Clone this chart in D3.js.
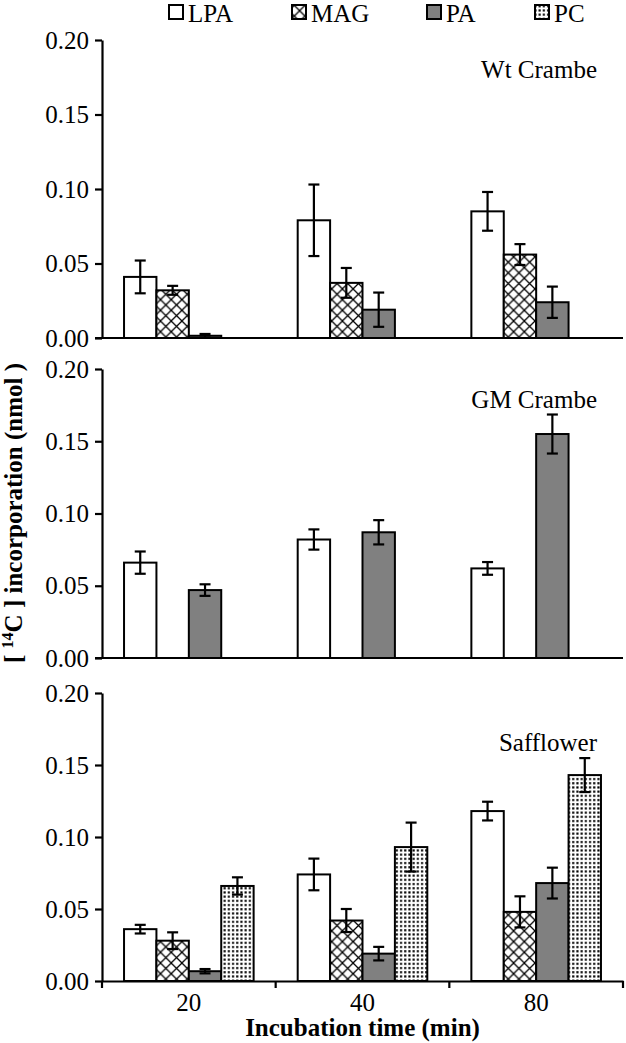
<!DOCTYPE html>
<html><head><meta charset="utf-8">
<script src="https://cdn.jsdelivr.net/npm/d3@7"></script>
<style>html,body{margin:0;padding:0;background:#fff;}</style>
</head><body>
<svg id="chart" width="626" height="1043"></svg>
<script>
const categories = ["20", "40", "80"];
const series = ["LPA", "MAG", "PA", "PC"];
const panelTitles = ["Wt Crambe", "GM Crambe", "Safflower"];
const yTicks = [0, 0.05, 0.10, 0.15, 0.20];

// Wt Crambe
const wtLPA = [0.041, 0.079, 0.085];
const wtMAG = [0.032, 0.037, 0.056];
const wtPA  = [0.0015, 0.019, 0.024];
const wtPC  = [null, null, null];
const wtLPAerr = [0.011, 0.024, 0.013];
const wtMAGerr = [0.003, 0.010, 0.007];
const wtPAerr  = [0.0012, 0.0115, 0.0105];
const wtPCerr  = [null, null, null];

// GM Crambe
const gmLPA = [0.066, 0.082, 0.062];
const gmMAG = [null, null, null];
const gmPA  = [0.047, 0.087, 0.155];
const gmPC  = [null, null, null];
const gmLPAerr = [0.0077, 0.007, 0.0044];
const gmMAGerr = [null, null, null];
const gmPAerr  = [0.004, 0.0084, 0.0135];
const gmPCerr  = [null, null, null];

// Safflower
const sfLPA = [0.036, 0.074, 0.118];
const sfMAG = [0.028, 0.042, 0.048];
const sfPA  = [0.0068, 0.019, 0.068];
const sfPC  = [0.066, 0.093, 0.143];
const sfLPAerr = [0.003, 0.011, 0.0065];
const sfMAGerr = [0.0058, 0.008, 0.0108];
const sfPAerr  = [0.0015, 0.0047, 0.0107];
const sfPCerr  = [0.006, 0.017, 0.0118];

const panelsData = [
  {vals: [wtLPA, wtMAG, wtPA, wtPC], errs: [wtLPAerr, wtMAGerr, wtPAerr, wtPCerr]},
  {vals: [gmLPA, gmMAG, gmPA, gmPC], errs: [gmLPAerr, gmMAGerr, gmPAerr, gmPCerr]},
  {vals: [sfLPA, sfMAG, sfPA, sfPC], errs: [sfLPAerr, sfMAGerr, sfPAerr, sfPCerr]}
];

const FONT = "'Liberation Serif', 'Times New Roman', serif";
const svg = d3.select("#chart");
const defs = svg.append("defs");

const ch = defs.append("pattern").attr("id", "hatch").attr("patternUnits", "userSpaceOnUse")
  .attr("width", 10.7).attr("height", 10.7);
ch.append("rect").attr("width", 10.7).attr("height", 10.7).attr("fill", "#fff");
ch.append("path").attr("d", "M0,0L10.7,10.7M10.7,0L0,10.7").attr("stroke", "#000").attr("stroke-width", 1.3);
const dp = defs.append("pattern").attr("id", "dots").attr("patternUnits", "userSpaceOnUse")
  .attr("width", 4.2).attr("height", 4.2);
dp.append("rect").attr("width", 4.2).attr("height", 4.2).attr("fill", "#fff");
dp.append("rect").attr("x", 1).attr("y", 1).attr("width", 2.1).attr("height", 2.1).attr("fill", "#000");

const fills = d3.scaleOrdinal().domain(series).range(["#fff", "url(#hatch)", "#808080", "url(#dots)"]);

const left = 102, right = 623;
const panelBox = [{top: 40, bottom: 338}, {top: 369, bottom: 658}, {top: 693, bottom: 981}];

const x0 = d3.scaleBand().domain(categories).range([left, right]).paddingInner(0).paddingOuter(0);
const x1 = d3.scaleBand().domain(series).range([0, x0.bandwidth()]).paddingInner(0).paddingOuter(0.68);

panelsData.forEach((pd, pi) => {
  const box = panelBox[pi];
  const y = d3.scaleLinear().domain([0, 0.2]).range([box.bottom, box.top]);
  const g = svg.append("g");

  const recs = [];
  series.forEach((s, si) => {
    categories.forEach((c, ci) => {
      const v = pd.vals[si][ci];
      if (v != null) recs.push({s, c, v, e: pd.errs[si][ci]});
    });
  });
  g.selectAll("rect.bar").data(recs).join("rect").attr("class", "bar")
    .attr("x", d => x0(d.c) + x1(d.s))
    .attr("width", x1.bandwidth())
    .attr("y", d => y(d.v))
    .attr("height", d => y(0) - y(d.v))
    .attr("fill", d => fills(d.s))
    .attr("stroke", "#000").attr("stroke-width", 2);

  const cap = 5.5;
  const cx = d => x0(d.c) + x1(d.s) + x1.bandwidth() / 2;
  const eb = g.selectAll("g.err").data(recs.filter(d => d.e != null)).join("g").attr("class", "err")
    .attr("stroke", "#000").attr("stroke-width", 2.2);
  eb.append("line").attr("x1", cx).attr("x2", cx)
    .attr("y1", d => y(d.v + d.e)).attr("y2", d => y(d.v - d.e));
  eb.append("line").attr("x1", d => cx(d) - cap).attr("x2", d => cx(d) + cap)
    .attr("y1", d => y(d.v + d.e)).attr("y2", d => y(d.v + d.e));
  eb.append("line").attr("x1", d => cx(d) - cap).attr("x2", d => cx(d) + cap)
    .attr("y1", d => y(d.v - d.e)).attr("y2", d => y(d.v - d.e));

  const ya = g.append("g").attr("transform", `translate(${left},0)`)
    .call(d3.axisLeft(y).tickValues(yTicks).tickFormat(d3.format(".2f")).tickSize(7).tickSizeOuter(0).tickPadding(6));
  ya.attr("font-family", FONT);
  ya.select(".domain").attr("stroke-width", 2.2);
  ya.selectAll(".tick line").attr("stroke-width", 2.2);
  ya.selectAll("text").attr("font-family", FONT).attr("font-size", 25).attr("fill", "#000");

  if (pi < 2) {
    g.append("line").attr("x1", left - 7).attr("x2", right).attr("y1", y(0)).attr("y2", y(0))
      .attr("stroke", "#000").attr("stroke-width", 2.2);
  } else {
    const xa = g.append("g").attr("transform", `translate(0,${y(0)})`)
      .call(d3.axisBottom(x0).tickSize(0).tickSizeOuter(0).tickPadding(12));
    xa.attr("font-family", FONT);
    xa.select(".domain").attr("stroke-width", 2.2);
    xa.selectAll("text").attr("font-family", FONT).attr("font-size", 25).attr("fill", "#000");
    const bounds = categories.map(c => x0(c)).concat([x0.range()[1]]);
    g.selectAll("line.bt").data(bounds).join("line").attr("class", "bt")
      .attr("x1", d => d).attr("x2", d => d).attr("y1", y(0)).attr("y2", y(0) + 7)
      .attr("stroke", "#000").attr("stroke-width", 2.2);
  }

  g.append("text").attr("x", 597).attr("y", box.top + [38, 39, 58][pi])
    .attr("text-anchor", "end").attr("font-family", FONT).attr("font-size", 25)
    .text(panelTitles[pi]);
});

svg.append("text").attr("x", (left + right) / 2).attr("y", 1036).attr("text-anchor", "middle")
  .attr("font-family", FONT).attr("font-size", 25).attr("font-weight", "bold")
  .text("Incubation time (min)");

const yt = svg.append("text").attr("transform", "translate(22,513) rotate(-90)")
  .attr("text-anchor", "middle").attr("font-family", FONT).attr("font-size", 25).attr("font-weight", "bold");
yt.append("tspan").text("[ ");
yt.append("tspan").attr("font-size", 16).attr("dy", -9).text("14");
yt.append("tspan").attr("dy", 9).text("C ] incorporation (nmol )");

const legX = [169, 292, 427, 535];
const leg = svg.append("g");
series.forEach((s, i) => {
  leg.append("rect").attr("x", legX[i]).attr("y", 5).attr("width", 14).attr("height", 14)
    .attr("fill", fills(s)).attr("stroke", "#000").attr("stroke-width", 2);
  leg.append("text").attr("x", legX[i] + 19).attr("y", 22)
    .attr("font-family", FONT).attr("font-size", 25).text(s);
});
</script>
</body></html>
